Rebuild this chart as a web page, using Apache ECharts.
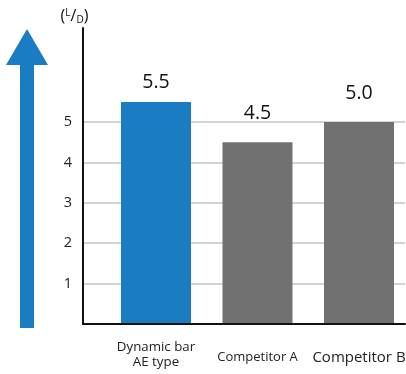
<!DOCTYPE html>
<html>
<head>
<meta charset="utf-8">
<script src="https://cdn.jsdelivr.net/npm/echarts@6/dist/echarts.min.js"></script>
<style>html,body{margin:0;padding:0;background:#fff;}#c{width:406px;height:374px;}</style>
</head>
<body>
<div id="c"></div>
<script>
var categories = ['Dynamic bar\nAE type', 'Competitor A', 'Competitor B'];
var values = [5.5, 4.5, 5.0];
var barColors = ['#1a7dc3', '#717171', '#717171'];
var yTicks = [1, 2, 3, 4, 5];
var unitLabel = '{p|(}{sup|L}{p|/}{sub|D}{p|)}';

var FONT = 'Open Sans';
var yMaxFull = 7.33;
var yMaxGrid = 5;

var chart = echarts.init(document.getElementById('c'), null, {renderer: 'canvas'});

var catData = categories.map(function (c, i) {
  var ts = {fontSize: 13.3, lineHeight: 15};
  if (i === 1) ts = {fontSize: 13, lineHeight: 35};
  if (i === 2) ts = {fontSize: 15, lineHeight: 35};
  return {value: c, textStyle: ts};
});

var barData = values.map(function (v, i) {
  return {
    value: v,
    itemStyle: {color: barColors[i]},
    label: {distance: i === 0 ? 9 : 19}
  };
});

var option = {
  animation: false,
  backgroundColor: '#fff',
  graphic: [{
    type: 'polygon',
    shape: {points: [[6, 65], [27, 29], [48, 65], [34, 65], [34, 328], [20, 328], [20, 65]]},
    style: {fill: '#1a7dc3'}
  }],
  grid: [
    {left: 83, right: 1, top: 28, bottom: 50, outerBoundsMode: 'none', containLabel: false},
    {left: 83, right: 1, top: 324 - 5 * 40.4, bottom: 50, outerBoundsMode: 'none', containLabel: false},
    {left: 156, right: 47, top: 28, bottom: 50, outerBoundsMode: 'none', containLabel: false}
  ],
  xAxis: [
    {gridIndex: 0, type: 'category', data: categories, z: 10,
      axisLine: {lineStyle: {color: '#111', width: 2}}, axisTick: {show: false}, axisLabel: {show: false}},
    {gridIndex: 1, type: 'category', data: categories, show: false},
    {gridIndex: 2, type: 'category', data: catData, boundaryGap: false,
      axisLine: {show: false}, axisTick: {show: false}, splitLine: {show: false},
      axisLabel: {margin: 16, color: '#222', fontFamily: FONT, interval: 0}}
  ],
  yAxis: [
    {gridIndex: 0, type: 'value', min: 0, max: yMaxFull, z: 10,
      axisLine: {show: true, lineStyle: {color: '#111', width: 2}},
      axisTick: {show: false}, axisLabel: {show: false}, splitLine: {show: false},
      name: unitLabel, nameLocation: 'end', nameGap: 3,
      nameTextStyle: {
        align: 'center', padding: [0, 17, 0, 0], color: '#111', fontFamily: FONT,
        rich: {
          p: {fontSize: 16, fontFamily: FONT, color: '#111', lineHeight: 17},
          sup: {fontSize: 10, fontFamily: FONT, color: '#111', verticalAlign: 'top', lineHeight: 17, padding: [0, 0, 5, 0]},
          sub: {fontSize: 10, fontFamily: FONT, color: '#111', verticalAlign: 'bottom', lineHeight: 17, padding: [3, 0, 0, 0]}
        }
      }},
    {gridIndex: 1, type: 'value', min: 0, max: yMaxGrid, interval: 1,
      axisLine: {show: false}, axisTick: {show: false},
      axisLabel: {margin: 11, color: '#222', fontSize: 14.5, fontFamily: FONT,
        formatter: function (v) { return yTicks.indexOf(v) >= 0 ? String(v) : ''; }},
      splitLine: {lineStyle: {color: '#c4c4c4', width: 1.5}}},
    {gridIndex: 2, type: 'value', min: 0, max: yMaxFull, show: false, splitLine: {show: false}}
  ],
  series: [{
    type: 'bar',
    xAxisIndex: 2, yAxisIndex: 2,
    barWidth: 70,
    clip: false,
    data: barData,
    label: {
      show: true, position: 'top', color: '#111', fontSize: 19.5, fontFamily: FONT,
      formatter: function (p) { return p.value.toFixed(1); }
    }
  }]
};
chart.setOption(option);
</script>
</body>
</html>
